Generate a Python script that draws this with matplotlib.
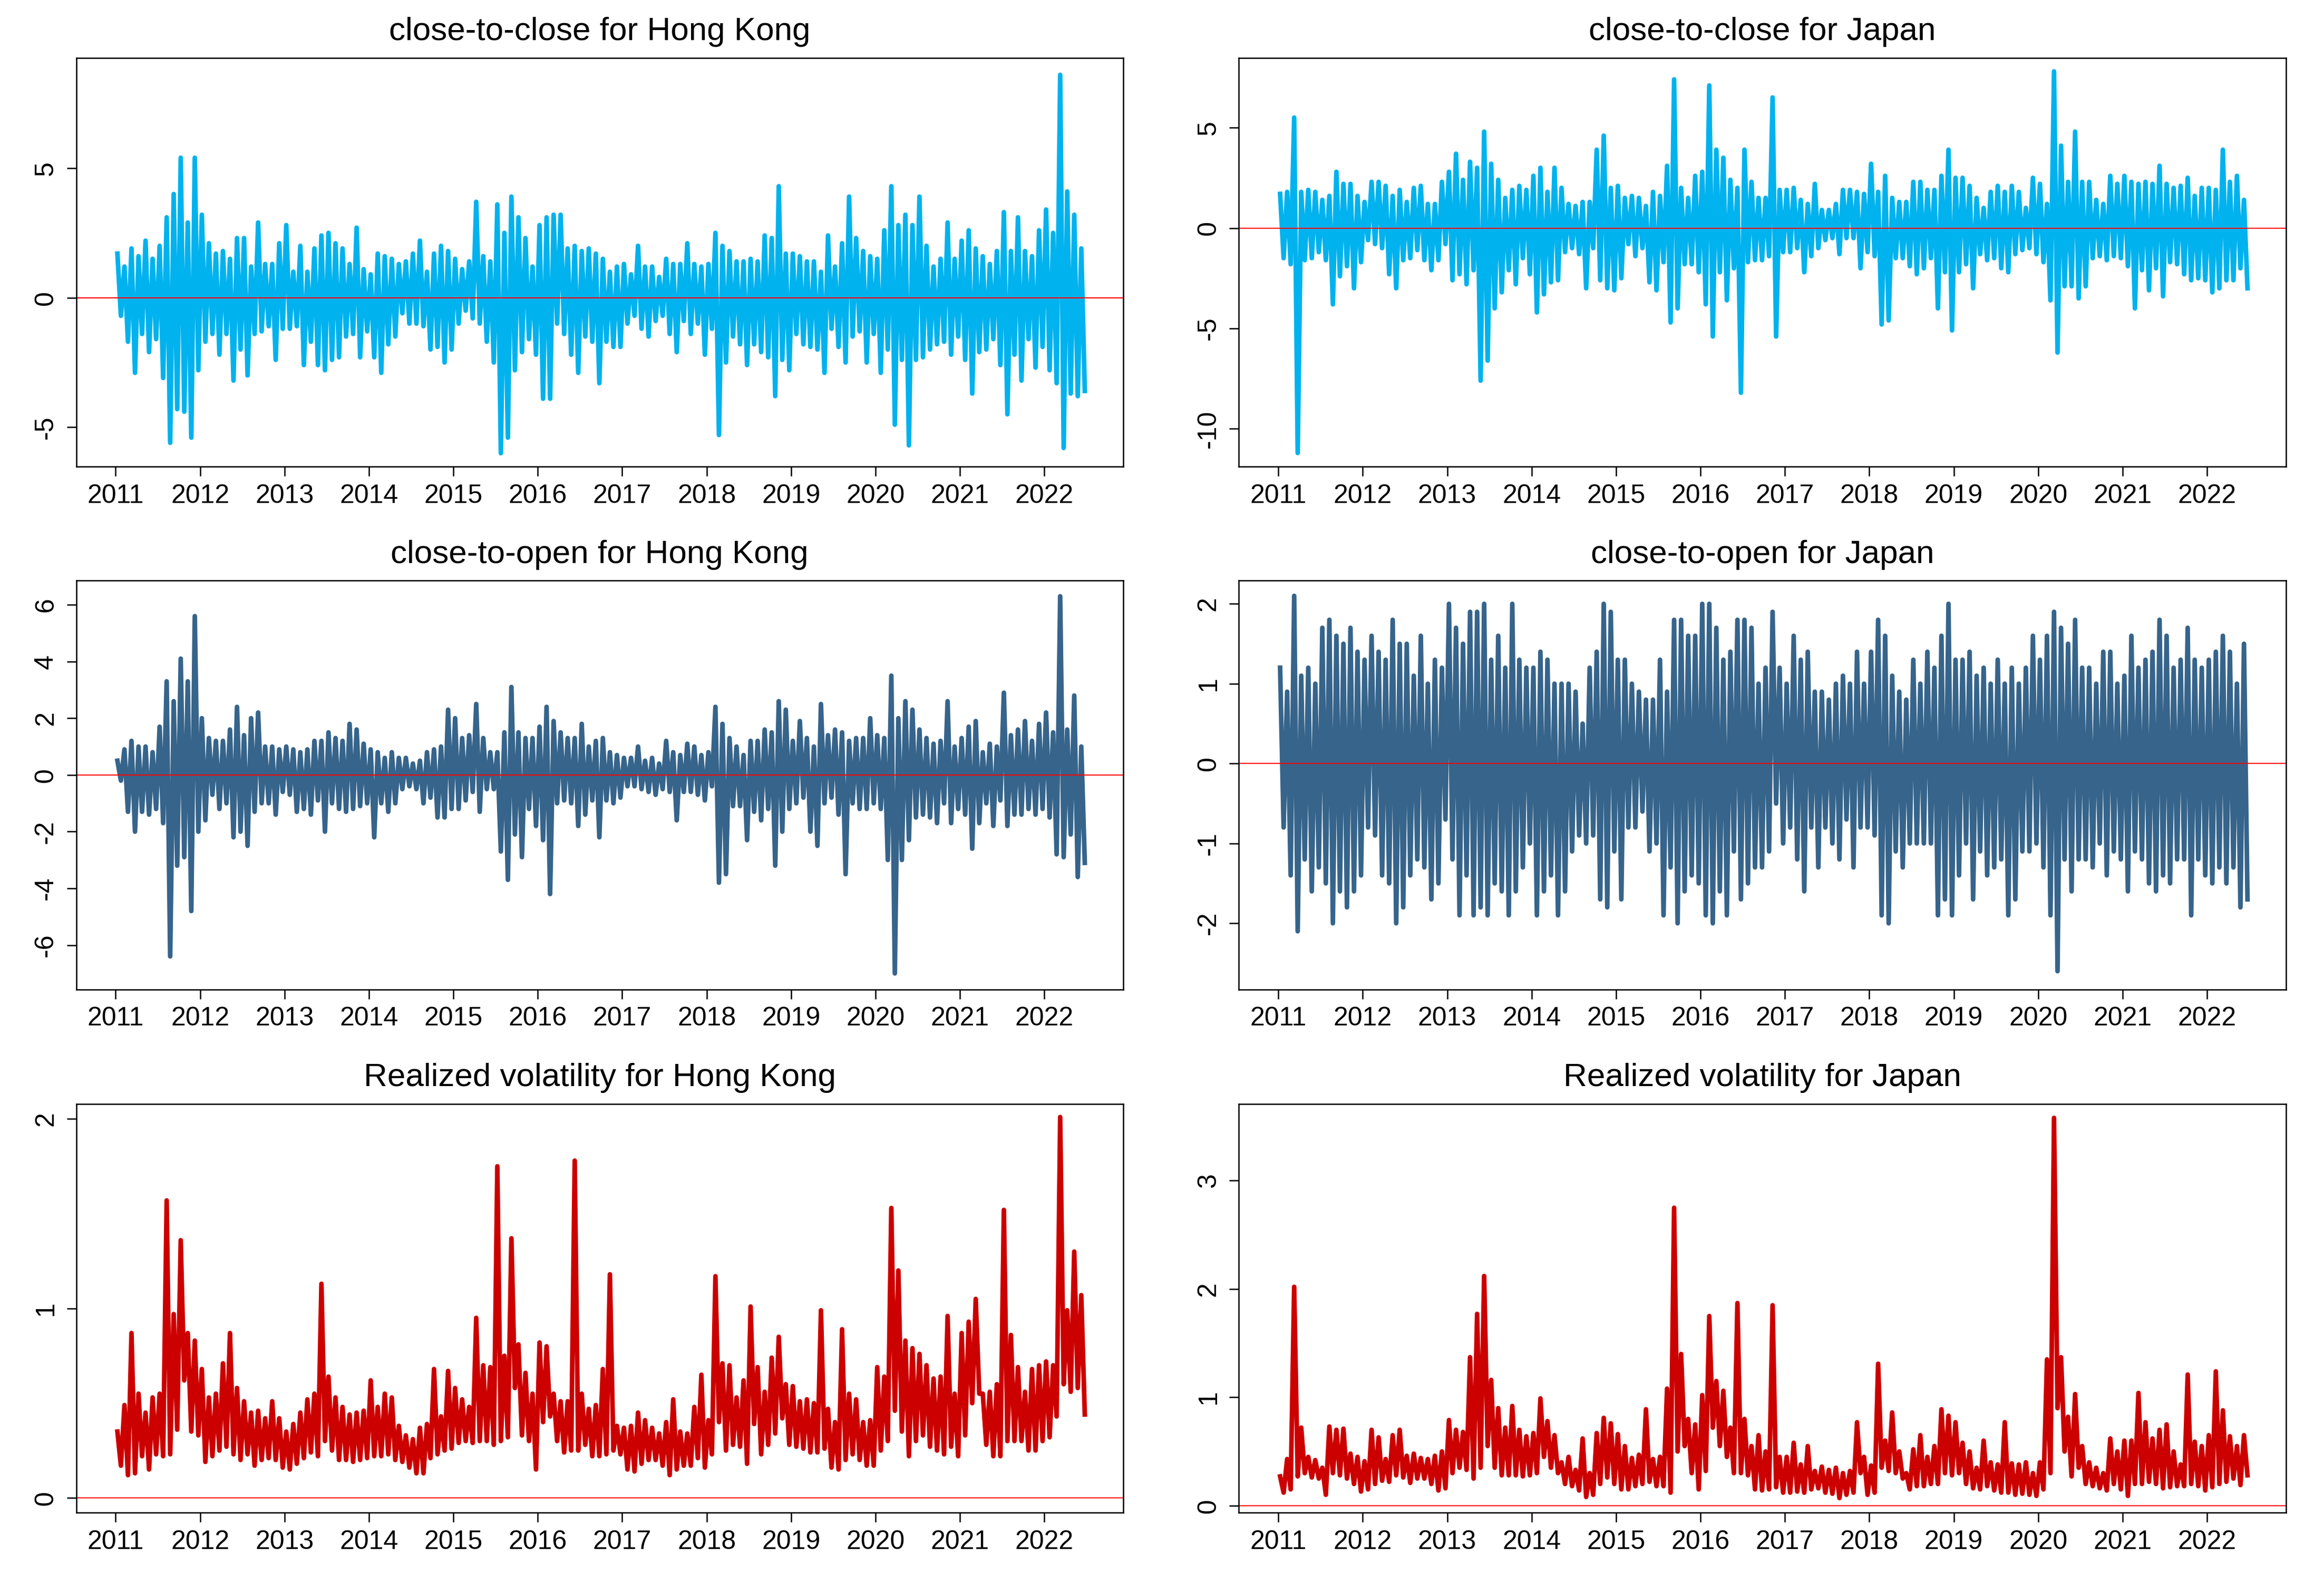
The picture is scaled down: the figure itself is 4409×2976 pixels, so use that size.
import matplotlib
matplotlib.use("Agg")
import matplotlib.pyplot as plt

plt.rcParams["font.family"] = ["Liberation Sans", "DejaVu Sans"]

# Monthly readings, Jan 2011 .. Jun 2022 (138 months): high and low of each month
HK_CC_HI = [1.7, 1.2, 1.9, 1.6, 2.2, 1.5, 2.0, 3.1, 4.0, 5.4, 2.9, 5.4,
            3.2, 2.1, 1.7, 1.8, 1.5, 2.3, 2.3, 1.2, 2.9, 1.3, 1.3, 2.1,
            2.8, 1.0, 2.0, 1.0, 1.9, 2.4, 2.5, 2.1, 1.9, 1.3, 2.7, 1.1,
            0.9, 1.7, 1.6, 1.5, 1.3, 1.4, 1.7, 2.2, 1.0, 1.7, 2.0, 1.8,
            1.5, 1.1, 1.4, 3.7, 1.6, 1.4, 3.6, 2.5, 3.9, 3.1, 2.3, 1.2,
            2.8, 3.1, 3.2, 3.2, 1.9, 2.0, 1.8, 1.9, 1.7, 1.5, 1.0, 1.2,
            1.3, 0.9, 2.0, 1.2, 1.2, 0.8, 1.5, 1.3, 1.3, 2.1, 1.3, 1.2,
            1.3, 2.5, 2.0, 1.8, 1.4, 1.4, 1.5, 1.4, 2.4, 2.3, 4.3, 1.7,
            1.7, 1.6, 1.4, 1.4, 1.0, 2.4, 1.2, 2.1, 3.9, 2.3, 1.8, 1.6,
            1.5, 2.6, 4.3, 2.8, 3.2, 2.8, 3.9, 2.0, 1.2, 1.5, 2.9, 1.5,
            2.2, 2.6, 1.9, 1.6, 1.3, 1.8, 3.3, 1.8, 3.1, 1.8, 1.6, 2.6,
            3.4, 2.5, 8.6, 4.1, 3.2, 1.9]
HK_CC_LO = [-0.7, -1.7, -2.9, -1.4, -2.1, -1.6, -3.1, -5.6, -4.3, -4.4, -5.4, -2.8,
            -1.7, -1.4, -2.2, -1.4, -3.2, -2.0, -3.0, -1.4, -1.3, -1.1, -2.4, -1.2,
            -1.2, -1.1, -2.6, -1.7, -2.6, -2.8, -2.4, -2.3, -1.5, -1.4, -2.3, -1.3,
            -2.3, -2.9, -1.8, -1.5, -0.6, -1.0, -1.0, -1.1, -2.0, -1.9, -2.5, -2.0,
            -1.0, -0.5, -0.8, -1.0, -1.7, -2.5, -6.0, -5.4, -2.8, -2.1, -1.6, -2.2,
            -3.9, -3.9, -1.0, -1.4, -2.2, -2.9, -1.5, -1.7, -3.3, -1.7, -1.9, -1.9,
            -1.0, -0.7, -1.2, -1.5, -0.9, -0.7, -1.4, -2.1, -0.9, -1.4, -1.0, -2.2,
            -1.2, -5.3, -2.5, -1.5, -1.8, -2.6, -1.8, -2.1, -2.3, -3.8, -2.4, -2.8,
            -1.4, -1.8, -1.9, -2.0, -2.9, -1.2, -1.9, -2.5, -1.5, -1.3, -2.5, -1.4,
            -2.9, -2.0, -4.9, -2.4, -5.7, -2.4, -2.3, -2.0, -1.8, -1.7, -2.2, -1.5,
            -2.4, -3.7, -2.1, -2.0, -1.6, -2.6, -4.5, -2.2, -3.2, -1.6, -2.7, -1.9,
            -2.8, -3.3, -5.8, -3.7, -3.8, -3.6]

JP_CC_HI = [1.7, 1.8, 5.5, 1.8, 1.9, 1.8, 1.4, 1.6, 2.8, 2.2, 2.2, 1.6,
            1.3, 2.3, 2.3, 2.1, 1.6, 1.9, 1.3, 2.0, 2.1, 1.2, 1.2, 2.3,
            2.8, 3.7, 2.4, 3.3, 3.0, 4.8, 3.2, 2.4, 1.5, 1.9, 2.1, 1.9,
            2.6, 3.0, 1.8, 3.0, 2.0, 1.2, 1.1, 1.3, 1.3, 3.9, 4.6, 2.0,
            2.1, 1.5, 1.6, 1.5, 1.1, 1.8, 1.6, 3.1, 7.4, 2.0, 1.5, 2.6,
            2.8, 7.1, 3.9, 3.5, 2.4, 2.0, 3.9, 2.3, 1.5, 1.5, 6.5, 1.9,
            1.9, 2.0, 1.4, 1.2, 2.2, 0.9, 0.9, 1.2, 1.9, 1.9, 1.8, 1.7,
            3.2, 1.8, 2.6, 1.5, 1.3, 1.3, 2.3, 2.3, 1.9, 1.9, 2.6, 3.9,
            2.5, 2.5, 2.1, 1.5, 1.0, 1.8, 2.1, 1.8, 2.1, 1.8, 1.0, 2.5,
            2.2, 1.2, 7.8, 4.1, 2.3, 4.8, 2.3, 2.3, 1.4, 1.2, 2.6, 2.2,
            2.6, 2.3, 2.2, 2.3, 2.2, 3.1, 2.2, 2.0, 2.1, 2.5, 1.6, 2.0,
            2.0, 1.9, 3.9, 2.3, 2.6, 1.4]
JP_CC_LO = [-1.5, -1.8, -11.2, -1.6, -1.5, -1.2, -1.6, -3.8, -2.4, -1.9, -3.0, -1.7,
            -0.6, -0.8, -1.0, -2.3, -3.0, -1.6, -1.5, -1.1, -1.6, -2.1, -1.6, -0.8,
            -2.6, -2.3, -2.8, -2.1, -7.6, -6.6, -4.0, -3.2, -2.1, -2.8, -1.5, -2.3,
            -4.2, -3.3, -2.7, -2.6, -1.2, -1.0, -1.3, -3.0, -1.0, -2.6, -3.0, -3.1,
            -2.5, -0.8, -1.4, -1.0, -2.7, -3.1, -1.7, -4.7, -4.0, -1.8, -1.8, -2.2,
            -3.8, -5.4, -2.2, -3.6, -2.0, -8.2, -1.7, -1.6, -1.6, -1.4, -5.4, -1.2,
            -1.2, -1.0, -2.2, -1.4, -1.0, -0.6, -0.5, -1.3, -0.5, -0.5, -2.0, -1.2,
            -1.4, -4.8, -4.6, -1.5, -1.5, -1.9, -2.3, -2.0, -1.5, -4.0, -2.2, -5.1,
            -2.2, -1.8, -3.0, -1.3, -1.6, -1.5, -2.0, -2.2, -1.3, -1.1, -1.0, -1.3,
            -1.7, -3.6, -6.2, -2.9, -2.9, -3.5, -2.9, -1.5, -1.4, -1.6, -1.4, -1.5,
            -1.9, -4.0, -2.1, -3.1, -2.0, -3.4, -1.7, -1.8, -2.3, -2.6, -2.5, -2.6,
            -3.2, -3.0, -2.6, -2.6, -2.0, -3.0]

HK_CO_HI = [0.5, 0.9, 1.2, 1.0, 1.0, 0.8, 1.7, 3.3, 2.6, 4.1, 3.3, 5.6,
            2.0, 1.3, 1.2, 1.2, 1.6, 2.4, 1.4, 2.0, 2.2, 1.0, 1.0, 0.9,
            1.0, 0.9, 0.8, 0.9, 1.2, 1.2, 1.5, 1.3, 1.2, 1.8, 1.6, 1.1,
            0.9, 0.8, 0.6, 0.8, 0.6, 0.6, 0.4, 0.5, 0.8, 0.9, 1.0, 2.3,
            2.0, 1.3, 1.4, 2.5, 1.3, 0.8, 0.8, 1.5, 3.1, 1.5, 1.3, 1.3,
            1.7, 2.4, 1.9, 1.5, 1.3, 1.3, 1.8, 1.0, 1.2, 1.3, 0.8, 0.7,
            0.6, 0.6, 1.0, 0.5, 0.6, 0.4, 1.2, 0.8, 0.7, 1.1, 1.0, 0.7,
            0.8, 2.4, 1.8, 1.3, 1.0, 0.7, 1.2, 1.2, 1.6, 1.5, 2.6, 2.3,
            1.2, 1.9, 1.3, 1.0, 2.5, 1.4, 1.6, 1.5, 1.2, 1.3, 1.3, 2.0,
            1.4, 1.3, 3.5, 2.0, 2.6, 2.3, 1.6, 1.3, 1.1, 1.2, 2.6, 1.0,
            1.3, 1.7, 1.9, 0.8, 1.1, 1.0, 2.9, 1.4, 1.6, 1.9, 1.2, 1.8,
            2.2, 1.5, 6.3, 1.6, 2.8, 1.0]
HK_CO_LO = [-0.2, -1.3, -2.0, -1.3, -1.4, -1.2, -1.7, -6.4, -3.2, -2.9, -4.8, -2.0,
            -1.6, -0.7, -1.2, -1.0, -2.2, -2.0, -2.5, -1.3, -1.0, -1.0, -1.4, -0.6,
            -0.7, -1.3, -1.2, -1.4, -0.9, -2.0, -1.0, -1.2, -1.3, -1.2, -1.1, -1.0,
            -2.2, -1.0, -1.3, -1.0, -0.5, -0.4, -0.5, -1.0, -0.8, -1.5, -1.5, -1.2,
            -1.2, -0.9, -0.6, -1.3, -0.5, -0.5, -2.7, -3.7, -2.1, -2.9, -1.2, -1.8,
            -2.3, -4.2, -1.0, -0.9, -1.0, -1.8, -1.4, -0.9, -2.2, -0.9, -1.0, -0.8,
            -0.4, -0.4, -0.5, -0.6, -0.7, -0.5, -0.6, -1.6, -0.6, -0.6, -0.7, -0.9,
            -0.4, -3.8, -3.5, -1.1, -1.1, -2.3, -1.3, -1.6, -1.2, -3.2, -2.0, -1.2,
            -1.0, -0.8, -2.0, -2.5, -1.0, -0.8, -1.4, -3.5, -1.0, -1.2, -1.2, -1.0,
            -1.2, -3.0, -7.0, -3.0, -2.3, -1.5, -1.4, -1.5, -1.7, -1.0, -1.7, -1.2,
            -1.4, -2.6, -1.7, -1.0, -1.8, -0.9, -1.8, -1.4, -1.4, -1.2, -1.4, -1.2,
            -1.5, -2.8, -2.9, -2.1, -3.6, -3.1]

JP_CO_HI = [1.2, 0.9, 2.1, 1.1, 1.2, 1.0, 1.7, 1.8, 1.6, 1.5, 1.7, 1.4,
            1.3, 1.6, 1.4, 1.3, 1.8, 1.5, 1.5, 1.1, 1.6, 1.0, 1.3, 1.2,
            2.0, 1.7, 1.5, 1.9, 1.9, 2.0, 1.3, 1.6, 1.2, 2.0, 1.3, 1.2,
            1.2, 1.4, 1.3, 1.0, 1.0, 1.0, 0.9, 0.5, 1.2, 1.4, 2.0, 1.9,
            1.3, 1.3, 1.0, 0.9, 0.8, 0.8, 1.3, 0.9, 1.8, 1.8, 1.6, 1.6,
            2.0, 2.0, 1.7, 1.3, 1.4, 1.8, 1.8, 1.7, 1.0, 1.2, 1.9, 1.2,
            1.0, 1.6, 1.3, 1.4, 0.9, 0.9, 0.8, 1.0, 1.1, 1.0, 1.4, 1.0,
            1.4, 1.8, 1.6, 1.1, 0.9, 0.8, 1.3, 1.0, 1.4, 1.2, 1.6, 2.0,
            1.3, 1.3, 1.4, 1.1, 1.2, 1.0, 1.3, 1.0, 1.2, 1.0, 1.2, 1.6,
            1.3, 1.6, 1.9, 1.7, 1.5, 1.8, 1.2, 1.2, 1.0, 1.4, 1.4, 1.0,
            1.1, 1.6, 1.2, 1.3, 1.4, 1.8, 1.6, 1.2, 1.3, 1.7, 1.3, 1.2,
            1.3, 1.4, 1.6, 1.4, 1.0, 1.5]
JP_CO_LO = [-0.8, -1.4, -2.1, -1.2, -1.6, -1.3, -1.5, -2.0, -1.6, -1.8, -1.6, -1.4,
            -0.8, -0.9, -1.4, -1.5, -2.0, -1.8, -1.4, -1.2, -1.3, -1.7, -1.5, -0.7,
            -1.2, -1.9, -1.4, -1.9, -1.8, -1.9, -1.5, -1.6, -1.9, -1.6, -1.3, -1.0,
            -1.9, -1.6, -1.4, -1.9, -1.6, -1.1, -0.9, -1.0, -0.9, -1.7, -1.8, -1.1,
            -1.7, -0.8, -0.8, -0.6, -1.1, -1.0, -1.9, -1.3, -2.0, -1.6, -1.4, -1.5,
            -1.9, -2.0, -1.6, -1.9, -1.1, -1.7, -1.5, -1.3, -1.3, -1.1, -0.5, -1.0,
            -0.8, -1.2, -1.6, -0.8, -1.3, -0.8, -1.0, -1.2, -0.7, -1.3, -0.8, -0.8,
            -0.9, -1.9, -2.0, -1.1, -1.3, -1.0, -1.0, -1.0, -1.0, -1.9, -1.7, -1.9,
            -1.4, -1.0, -1.7, -1.1, -1.4, -1.3, -1.2, -1.9, -1.7, -1.1, -1.1, -1.0,
            -1.3, -1.9, -2.6, -1.2, -1.6, -1.2, -1.2, -1.3, -1.0, -1.4, -1.1, -1.2,
            -1.6, -1.1, -1.2, -1.5, -1.6, -1.4, -1.5, -1.2, -1.2, -1.9, -1.2, -1.4,
            -1.5, -1.3, -1.5, -1.3, -1.8, -1.7]

HK_RV_HI = [0.35, 0.49, 0.87, 0.55, 0.45, 0.53, 0.55, 1.57, 0.97, 1.36, 0.87, 0.83,
            0.68, 0.53, 0.55, 0.71, 0.87, 0.58, 0.51, 0.45, 0.46, 0.42, 0.51, 0.42,
            0.35, 0.39, 0.45, 0.52, 0.55, 1.13, 0.64, 0.53, 0.48, 0.44, 0.45, 0.46,
            0.62, 0.48, 0.55, 0.53, 0.38, 0.33, 0.31, 0.37, 0.39, 0.68, 0.43, 0.67,
            0.58, 0.52, 0.48, 0.95, 0.70, 0.69, 1.75, 0.75, 1.37, 0.81, 0.66, 0.55,
            0.82, 0.80, 0.55, 0.51, 0.51, 1.78, 0.55, 0.47, 0.49, 0.68, 1.18, 0.38,
            0.37, 0.38, 0.45, 0.41, 0.37, 0.34, 0.40, 0.52, 0.35, 0.34, 0.48, 0.65,
            0.41, 1.17, 0.71, 0.70, 0.53, 0.62, 1.01, 0.69, 0.56, 0.74, 0.85, 0.60,
            0.59, 0.51, 0.52, 0.50, 0.99, 0.47, 0.40, 0.89, 0.55, 0.52, 0.40, 0.41,
            0.69, 0.64, 1.53, 1.20, 0.83, 0.79, 0.76, 0.70, 0.63, 0.64, 0.96, 0.55,
            0.87, 0.93, 1.05, 0.55, 0.56, 0.60, 1.52, 0.86, 0.69, 0.56, 0.68, 0.70,
            0.72, 0.70, 2.01, 0.99, 1.30, 1.07]
HK_RV_LO = [0.17, 0.12, 0.13, 0.22, 0.15, 0.23, 0.22, 0.23, 0.36, 0.62, 0.35, 0.33,
            0.19, 0.22, 0.25, 0.27, 0.23, 0.20, 0.23, 0.17, 0.20, 0.21, 0.20, 0.16,
            0.15, 0.18, 0.21, 0.24, 0.22, 0.30, 0.25, 0.20, 0.20, 0.19, 0.20, 0.21,
            0.22, 0.22, 0.23, 0.20, 0.19, 0.16, 0.13, 0.13, 0.21, 0.23, 0.25, 0.26,
            0.29, 0.30, 0.29, 0.30, 0.30, 0.28, 0.30, 0.32, 0.58, 0.33, 0.30, 0.15,
            0.40, 0.43, 0.30, 0.24, 0.25, 0.25, 0.28, 0.22, 0.22, 0.23, 0.25, 0.23,
            0.15, 0.14, 0.18, 0.20, 0.20, 0.17, 0.12, 0.15, 0.17, 0.17, 0.21, 0.16,
            0.23, 0.40, 0.25, 0.28, 0.27, 0.18, 0.39, 0.23, 0.28, 0.34, 0.42, 0.28,
            0.27, 0.26, 0.24, 0.24, 0.26, 0.16, 0.15, 0.20, 0.23, 0.20, 0.17, 0.17,
            0.25, 0.30, 0.46, 0.35, 0.22, 0.30, 0.33, 0.27, 0.25, 0.23, 0.27, 0.22,
            0.33, 0.50, 0.55, 0.28, 0.22, 0.22, 0.30, 0.30, 0.30, 0.25, 0.25, 0.30,
            0.32, 0.43, 0.60, 0.56, 0.58, 0.44]

JP_RV_HI = [0.27, 0.43, 2.02, 0.72, 0.45, 0.42, 0.35, 0.73, 0.70, 0.71, 0.48, 0.45,
            0.41, 0.70, 0.63, 0.43, 0.65, 0.70, 0.46, 0.48, 0.44, 0.43, 0.46, 0.50,
            0.79, 0.70, 0.68, 1.37, 1.77, 2.12, 1.16, 0.90, 0.72, 0.92, 0.70, 0.64,
            0.67, 0.99, 0.78, 0.65, 0.40, 0.45, 0.33, 0.62, 0.30, 0.67, 0.81, 0.76,
            0.66, 0.55, 0.44, 0.47, 0.89, 0.43, 0.45, 1.08, 2.75, 1.40, 0.80, 0.75,
            1.02, 1.75, 1.15, 1.06, 0.72, 1.87, 0.80, 0.55, 0.65, 0.50, 1.85, 0.45,
            0.45, 0.58, 0.38, 0.55, 0.32, 0.36, 0.33, 0.35, 0.30, 0.32, 0.77, 0.45,
            0.37, 1.31, 0.60, 0.86, 0.50, 0.30, 0.52, 0.65, 0.45, 0.55, 0.89, 0.83,
            0.77, 0.58, 0.50, 0.35, 0.60, 0.40, 0.38, 0.77, 0.39, 0.38, 0.40, 0.30,
            0.40, 1.35, 3.58, 1.37, 0.82, 1.03, 0.55, 0.40, 0.35, 0.30, 0.62, 0.50,
            0.60, 0.60, 1.04, 0.77, 0.62, 0.70, 0.75, 0.50, 0.38, 1.21, 0.59, 0.55,
            0.65, 1.24, 0.88, 0.64, 0.55, 0.65]
JP_RV_LO = [0.12, 0.15, 0.27, 0.30, 0.26, 0.25, 0.10, 0.30, 0.28, 0.25, 0.20, 0.13,
            0.15, 0.20, 0.23, 0.22, 0.28, 0.26, 0.21, 0.25, 0.25, 0.20, 0.14, 0.16,
            0.30, 0.35, 0.33, 0.25, 0.35, 0.55, 0.35, 0.28, 0.28, 0.28, 0.27, 0.28,
            0.30, 0.45, 0.35, 0.30, 0.20, 0.18, 0.14, 0.08, 0.10, 0.20, 0.26, 0.20,
            0.15, 0.15, 0.18, 0.20, 0.22, 0.18, 0.18, 0.12, 0.50, 0.55, 0.30, 0.15,
            0.32, 0.72, 0.55, 0.45, 0.30, 0.30, 0.28, 0.15, 0.14, 0.15, 0.17, 0.12,
            0.12, 0.13, 0.12, 0.15, 0.16, 0.12, 0.11, 0.07, 0.10, 0.12, 0.30, 0.10,
            0.12, 0.35, 0.32, 0.30, 0.25, 0.15, 0.18, 0.18, 0.20, 0.20, 0.30, 0.28,
            0.30, 0.20, 0.16, 0.15, 0.18, 0.14, 0.12, 0.12, 0.10, 0.11, 0.10, 0.09,
            0.15, 0.30, 0.90, 0.50, 0.27, 0.35, 0.20, 0.18, 0.16, 0.14, 0.20, 0.15,
            0.09, 0.20, 0.20, 0.22, 0.20, 0.16, 0.17, 0.18, 0.18, 0.20, 0.18, 0.14,
            0.17, 0.20, 0.22, 0.25, 0.19, 0.28]

YEAR_TICKS = list(range(2011, 2023))

SKY = "#00B2EE"
STEEL = "#36648B"
DARKRED = "#CD0000"

# title, high, low, colour, y limits, y ticks
PANELS = [
    ("close-to-close for Hong Kong", HK_CC_HI, HK_CC_LO, SKY, (-6.52, 9.26), [-5, 0, 5]),
    ("close-to-close for Japan", JP_CC_HI, JP_CC_LO, SKY, (-11.88, 8.48), [-10, -5, 0, 5]),
    ("close-to-open for Hong Kong", HK_CO_HI, HK_CO_LO, STEEL, (-7.57, 6.85), [-6, -4, -2, 0, 2, 4, 6]),
    ("close-to-open for Japan", JP_CO_HI, JP_CO_LO, STEEL, (-2.83, 2.29), [-2, -1, 0, 1, 2]),
    ("Realized volatility for Hong Kong", HK_RV_HI, HK_RV_LO, DARKRED, (-0.078, 2.08), [0, 1, 2]),
    ("Realized volatility for Japan", JP_RV_HI, JP_RV_LO, DARKRED, (-0.065, 3.71), [0, 1, 2, 3]),
]

LEFTS = [0.0328, 0.5331]
WIDTH = 0.4505
BOTTOMS = [0.7026, 0.3693, 0.0359]
HEIGHT = 0.2606


def month_path(hi, lo):
    """Each month drawn as its high then its low, in time order."""
    t, v = [], []
    for m, (h, l) in enumerate(zip(hi, lo)):
        t += [2011 + (m + 0.25) / 12, 2011 + (m + 0.75) / 12]
        v += [h, l]
    return t, v


fig = plt.figure(figsize=(4409 / 300, 2976 / 300), dpi=300)

for idx, (title, hi, lo, color, ylim, yticks) in enumerate(PANELS):
    ax = fig.add_axes([LEFTS[idx % 2], BOTTOMS[idx // 2], WIDTH, HEIGHT])
    t, v = month_path(hi, lo)
    ax.plot(t, v, color=color, linewidth=2.1, solid_joinstyle="round")
    ax.axhline(0, color="red", linewidth=0.5)

    ax.set_xlim(2010.533, 2022.934)
    ax.set_ylim(*ylim)
    ax.set_xticks(YEAR_TICKS)
    ax.set_yticks(yticks)
    ax.set_yticklabels([str(y) for y in yticks], rotation=90, va="center")

    ax.tick_params(direction="out", length=4.3, width=0.6, labelsize=12, colors="black")
    ax.tick_params(axis="x", pad=3.5)
    ax.tick_params(axis="y", pad=4)
    for sp in ax.spines.values():
        sp.set_linewidth(0.6)

    ax.set_title(title, fontsize=14.9, pad=8)

fig.savefig("out.png", dpi=300, facecolor="white")
